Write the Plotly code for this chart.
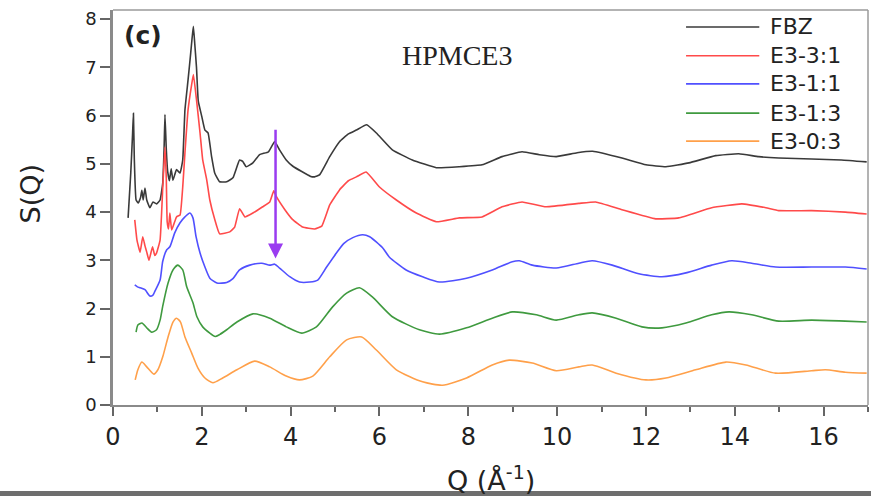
import plotly.graph_objects as go

series_names = ["FBZ", "E3-3:1", "E3-1:1", "E3-1:3", "E3-0:3"]
series_colors = ["#3a3a3a", "#ff4a4a", "#5050ff", "#3f9a3f", "#ffa04a"]

q_fbz = [0.34, 0.40, 0.44, 0.46, 0.48, 0.52, 0.57, 0.62, 0.65, 0.68, 0.72, 0.76, 0.83, 0.90, 0.98,
         1.06, 1.12, 1.15, 1.17, 1.20, 1.23, 1.27, 1.31, 1.35, 1.43, 1.51, 1.57, 1.62, 1.69, 1.75,
         1.78, 1.81, 1.84, 1.88, 1.92, 2.00, 2.07, 2.14, 2.22, 2.29, 2.40, 2.56, 2.70, 2.85, 2.92,
         3.00, 3.15, 3.30, 3.50, 3.64, 3.75, 3.90, 4.05, 4.25, 4.45, 4.54, 4.65, 4.88, 5.10, 5.30,
         5.48, 5.71, 5.93, 6.29, 6.74, 7.28, 7.80, 8.31, 8.76, 9.21, 9.60, 9.98, 10.45, 10.80, 11.46,
         12.00, 12.45, 12.97, 13.57, 14.09, 14.54, 14.99, 15.73, 16.40, 16.97]
s_fbz = [3.88, 4.81, 5.60, 6.05, 5.10, 4.25, 4.19, 4.30, 4.45, 4.25, 4.50, 4.25, 4.09, 4.21, 4.17,
         4.25, 4.60, 5.30, 6.02, 5.30, 4.85, 4.65, 4.90, 4.66, 4.88, 4.81, 5.08, 6.12, 6.74, 7.30,
         7.60, 7.85, 7.50, 7.00, 6.30, 5.98, 5.70, 5.64, 5.15, 4.81, 4.63, 4.63, 4.71, 5.08, 5.05,
         4.94, 5.02, 5.19, 5.25, 5.46, 5.29, 5.08, 4.95, 4.84, 4.74, 4.73, 4.77, 5.15, 5.46, 5.62,
         5.70, 5.81, 5.64, 5.29, 5.08, 4.92, 4.94, 4.98, 5.15, 5.25, 5.19, 5.15, 5.23, 5.26, 5.12,
         4.98, 4.94, 5.02, 5.17, 5.21, 5.15, 5.12, 5.10, 5.08, 5.04]

q_e3_31 = [0.49, 0.54, 0.61, 0.67, 0.72, 0.76, 0.81, 0.89, 0.94, 0.98, 1.06, 1.12, 1.17, 1.20, 1.22,
           1.25, 1.28, 1.32, 1.37, 1.43, 1.51, 1.57, 1.62, 1.69, 1.77, 1.81, 1.88, 1.96, 2.02, 2.11,
           2.18, 2.29, 2.40, 2.63, 2.74, 2.85, 2.97, 3.15, 3.37, 3.53, 3.62, 3.68, 3.87, 4.04, 4.27,
           4.54, 4.70, 4.88, 5.10, 5.30, 5.48, 5.70, 6.00, 6.38, 6.83, 7.28, 7.80, 8.31, 8.76, 9.21,
           9.75, 10.49, 10.87, 11.46, 12.22, 12.74, 13.48, 14.16, 14.70, 14.99, 15.73, 16.49, 16.97]
s_e3_31 = [3.84, 3.42, 3.17, 3.49, 3.30, 3.17, 3.00, 3.28, 3.10, 3.15, 3.42, 4.50, 5.35, 4.70, 3.80,
           3.65, 3.98, 3.63, 3.75, 3.90, 3.94, 4.52, 5.23, 6.12, 6.64, 6.85, 6.33, 5.64, 5.08, 4.67,
           4.25, 3.85, 3.55, 3.59, 3.69, 4.07, 3.90, 3.98, 4.11, 4.21, 4.44, 4.32, 4.05, 3.85, 3.69,
           3.65, 3.71, 4.15, 4.46, 4.65, 4.73, 4.83, 4.52, 4.25, 3.98, 3.80, 3.88, 3.90, 4.11, 4.21,
           4.11, 4.18, 4.21, 4.05, 3.86, 3.88, 4.09, 4.17, 4.09, 4.03, 4.03, 4.00, 3.96]

q_e3_11 = [0.49, 0.55, 0.61, 0.72, 0.83, 0.90, 0.94, 1.06, 1.12, 1.21, 1.28, 1.39, 1.51, 1.62, 1.73,
           1.80, 1.87, 1.96, 2.07, 2.18, 2.34, 2.56, 2.70, 2.85, 3.08, 3.35, 3.53, 3.64, 3.75, 3.98,
           4.20, 4.43, 4.61, 4.81, 5.03, 5.20, 5.40, 5.62, 5.78, 6.07, 6.22, 6.60, 6.97, 7.35, 7.96,
           8.54, 8.99, 9.15, 9.44, 9.98, 10.49, 10.79, 11.24, 11.84, 12.36, 12.90, 13.48, 13.93, 14.38,
           14.92, 15.73, 16.49, 16.97]
s_e3_11 = [2.49, 2.45, 2.43, 2.39, 2.26, 2.28, 2.35, 2.59, 2.98, 3.22, 3.28, 3.57, 3.78, 3.90, 3.98,
           3.88, 3.49, 3.15, 2.86, 2.63, 2.53, 2.54, 2.62, 2.80, 2.90, 2.94, 2.90, 2.92, 2.84, 2.66,
           2.55, 2.55, 2.59, 2.86, 3.15, 3.35, 3.47, 3.53, 3.49, 3.26, 3.07, 2.80, 2.66, 2.55, 2.63,
           2.80, 2.97, 2.99, 2.90, 2.84, 2.94, 2.99, 2.90, 2.72, 2.66, 2.74, 2.90, 2.99, 2.94,
           2.86, 2.86, 2.86, 2.82]

q_e3_13 = [0.52, 0.56, 0.65, 0.76, 0.87, 0.98, 1.06, 1.12, 1.24, 1.35, 1.46, 1.57, 1.66, 1.80, 1.89,
           2.02, 2.18, 2.30, 2.40, 2.56, 2.79, 3.15, 3.53, 3.90, 4.25, 4.58, 4.94, 5.26, 5.55, 5.84,
           6.29, 6.90, 7.35, 7.96, 8.54, 8.99, 9.53, 9.98, 10.49, 10.79, 11.33, 11.91, 12.36, 12.90,
           13.48, 13.87, 14.38, 14.99, 15.73, 16.49, 16.97]
s_e3_13 = [1.51, 1.66, 1.70, 1.60, 1.51, 1.56, 1.76, 2.05, 2.53, 2.80, 2.90, 2.80, 2.45, 2.12, 1.83,
           1.62, 1.49, 1.42, 1.46, 1.56, 1.72, 1.89, 1.80, 1.62, 1.49, 1.62, 2.03, 2.32, 2.43, 2.24,
           1.83, 1.56, 1.47, 1.60, 1.80, 1.93, 1.87, 1.76, 1.87, 1.91, 1.80, 1.62, 1.60, 1.70,
           1.87, 1.93, 1.87, 1.74, 1.76, 1.74, 1.72]

q_e3_03 = [0.50, 0.56, 0.65, 0.76, 0.92, 1.01, 1.12, 1.24, 1.35, 1.43, 1.52, 1.62, 1.77, 1.91, 2.07,
           2.25, 2.47, 2.79, 3.19, 3.53, 3.90, 4.20, 4.50, 4.88, 5.26, 5.60, 5.93, 6.38, 6.97, 7.42,
           7.96, 8.54, 8.92, 9.44, 9.98, 10.49, 10.79, 11.33, 12.00, 12.45, 13.12, 13.80, 14.25, 14.92,
           15.73, 16.04, 16.49, 16.97]
s_e3_03 = [0.52, 0.73, 0.89, 0.79, 0.64, 0.73, 1.00, 1.41, 1.72, 1.80, 1.72, 1.41, 1.08, 0.77, 0.56,
           0.46, 0.56, 0.73, 0.91, 0.79, 0.60, 0.52, 0.60, 1.00, 1.35, 1.41, 1.14, 0.73, 0.48, 0.41,
           0.56, 0.83, 0.93, 0.87, 0.71, 0.79, 0.83, 0.66, 0.52, 0.56, 0.73, 0.89, 0.83, 0.66,
           0.71, 0.73, 0.68, 0.66]

x_ticks = [0, 2, 4, 6, 8, 10, 12, 14, 16]
y_ticks = [0, 1, 2, 3, 4, 5, 6, 7, 8]

all_q = [q_fbz, q_e3_31, q_e3_11, q_e3_13, q_e3_03]
all_s = [s_fbz, s_e3_31, s_e3_11, s_e3_13, s_e3_03]
smoothing = [0.35, 0.35, 0.6, 0.6, 0.6]

fig = go.Figure()
for name, col, q, s, sm in zip(series_names, series_colors, all_q, all_s, smoothing):
    fig.add_trace(go.Scatter(
        x=q, y=s, mode="lines", name=name,
        line=dict(color=col, width=1.6, shape="spline", smoothing=sm),
        showlegend=False,
    ))

axis_col = "#8a8a8a"
fig.update_layout(
    width=871, height=496,
    margin=dict(l=113, r=3, t=10, b=91),
    paper_bgcolor="white", plot_bgcolor="white",
    font=dict(family="DejaVu Sans", color="#222"),
    xaxis=dict(range=[0, 17], tickvals=x_ticks, ticks="outside", ticklen=9, tickwidth=2,
               tickcolor="#666", showline=True, linecolor=axis_col, linewidth=2,
               showgrid=False, zeroline=False, tickfont=dict(size=24, color="#222"),
               minor=dict(dtick=1, ticks="outside", ticklen=5, tickwidth=1.5, tickcolor="#666")),
    yaxis=dict(range=[0, 8.19], tickvals=y_ticks, ticks="outside", ticklen=10, tickwidth=2,
               tickcolor="#666", showline=True, linecolor=axis_col, linewidth=2.5,
               showgrid=False, zeroline=False, tickfont=dict(size=18, color="#222")),
)

# thin frame on top and right
fig.add_shape(type="line", xref="paper", yref="paper", x0=0, x1=1, y0=1, y1=1,
              line=dict(color="#9a9a9a", width=1.5))
fig.add_shape(type="line", xref="paper", yref="paper", x0=1, x1=1, y0=0, y1=1,
              line=dict(color="#9a9a9a", width=1.5))
# grey strip at bottom of image
fig.add_shape(type="rect", xref="paper", yref="paper", x0=-0.16, x1=1.01, y0=-0.235, y1=-0.218,
              line=dict(width=0), fillcolor="#6e6e6e", layer="below")

# manual legend
leg_y = [0.957, 0.884, 0.813, 0.739, 0.668]
for name, col, yy in zip(series_names, series_colors, leg_y):
    fig.add_shape(type="line", xref="paper", yref="paper", x0=0.759, x1=0.856, y0=yy, y1=yy,
                  line=dict(color=col, width=1.6))
    fig.add_annotation(xref="paper", yref="paper", x=0.868, y=yy, text=name, showarrow=False,
                       xanchor="left", yanchor="middle", font=dict(size=22, color="#222"))

fig.add_annotation(xref="paper", yref="paper", x=0.04, y=0.935, text="<b>(c)</b>", showarrow=False,
                   xanchor="center", yanchor="middle", font=dict(size=25, color="#222"))
fig.add_annotation(xref="paper", yref="paper", x=0.455, y=0.885, text="HPMCE3", showarrow=False,
                   xanchor="center", yanchor="middle",
                   font=dict(size=28, family="Liberation Serif", color="#222"))
fig.add_annotation(xref="paper", yref="paper", x=-0.109, y=0.535, text="S(Q)", showarrow=False,
                   textangle=-90, xanchor="center", yanchor="middle", font=dict(size=27, color="#222"))
fig.add_annotation(xref="paper", yref="paper", x=0.5, y=-0.185, text="Q (Å<sup>-1</sup>)",
                   showarrow=False, xanchor="center", yanchor="middle", font=dict(size=27, color="#222"))

# purple arrow
fig.add_annotation(x=3.66, y=3.04, ax=3.66, ay=5.74, xref="x", yref="y", axref="x", ayref="y",
                   text="", showarrow=True, arrowhead=2, arrowsize=1.2, arrowwidth=2.5,
                   arrowcolor="#9a3cf0")

fig.write_html("out.html", config={"displayModeBar": False},
               post_script="document.body.style.margin='0';document.body.style.overflow='hidden';")
